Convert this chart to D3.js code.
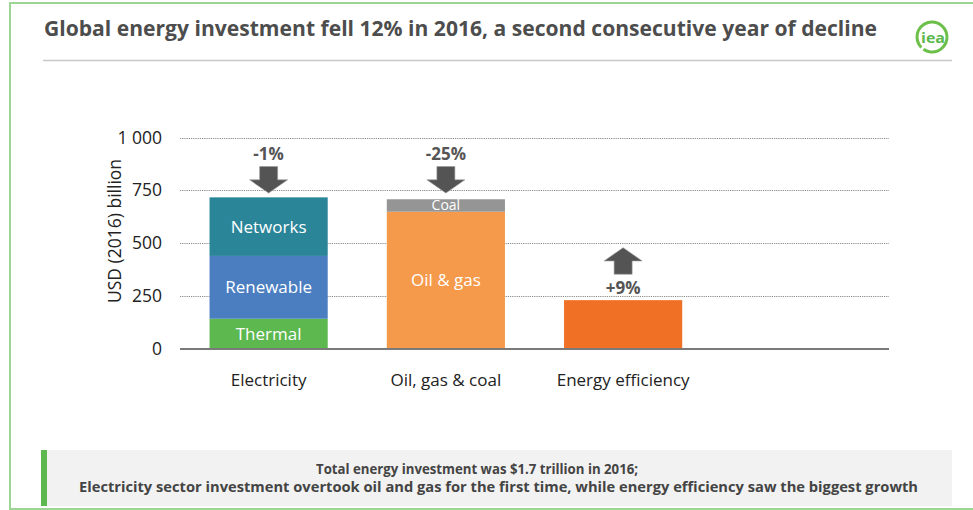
<!DOCTYPE html>
<html>
<head>
<meta charset="utf-8">
<script src="https://cdn.jsdelivr.net/npm/d3@7"></script>
<style>
  html, body { margin: 0; padding: 0; background: #fff; }
  svg { display: block; }
  text { font-family: "Open Sans", "Noto Sans", sans-serif; }
</style>
</head>
<body>
<svg id="chart" width="973" height="510"></svg>
<script>
// Sectors along the x axis (the fourth slot is left empty)
const categories = ["Electricity", "Oil, gas & coal", "Energy efficiency", ""];

// Stacked components, USD (2016) billion
const electricitySegments = ["Thermal", "Renewable", "Networks"];
const electricityValues = [143, 297, 277];
const fuelSegments = ["Oil & gas", "Coal"];
const fuelValues = [649, 59];
const efficiencySegments = [""];
const efficiencyValues = [231];

// Year-on-year change annotations
const changeLabels = ["-1%", "-25%", "+9%"];
const changeDirections = ["down", "down", "up"];

const yTicks = [0, 250, 500, 750, 1000];
const yTickLabels = ["0", "250", "500", "750", "1 000"];

const segmentColors = {
  "Thermal": "#5cb84f",
  "Renewable": "#4a7ec0",
  "Networks": "#2b8599",
  "Oil & gas": "#f5994a",
  "Coal": "#959595",
  "": "#f07125"
};

const svg = d3.select("#chart");

// Frame
svg.append("rect").attr("x", 10).attr("y", 3).attr("width", 1000).attr("height", 506)
  .attr("fill", "#fff").attr("stroke", "#9dd594").attr("stroke-width", 2);

// Title
svg.append("text").attr("x", 44).attr("y", 36)
  .attr("font-size", 21).attr("font-weight", 700).attr("fill", "#4d4d4d")
  .attr("textLength", 833).attr("lengthAdjust", "spacingAndGlyphs")
  .text("Global energy investment fell 12% in 2016, a second consecutive year of decline");
svg.append("line").attr("x1", 43).attr("x2", 952).attr("y1", 60.5).attr("y2", 60.5)
  .attr("stroke", "#c8c8c8").attr("stroke-width", 1.5);

// Logo
const logo = svg.append("g").attr("transform", "translate(932,37)");
const ring = d3.arc().innerRadius(13.5).outerRadius(16.5).startAngle(-2.35).endAngle(3.75);
logo.append("path").attr("d", ring()).attr("fill", "#6cc04a");
logo.append("text").attr("x", 1).attr("y", 6).attr("text-anchor", "middle")
  .attr("font-family", "'DejaVu Serif', serif").attr("font-size", 14).attr("font-weight", 700)
  .attr("fill", "#5cb84f").attr("textLength", 24).attr("lengthAdjust", "spacingAndGlyphs").text("iea");

// Scales
const x = d3.scaleBand().domain(categories).range([180, 889]).paddingInner(1 / 3).paddingOuter(1 / 6);
const y = d3.scaleLinear().domain([0, 1000]).range([349, 137.5]);

// Gridlines
svg.append("g").selectAll("line").data(yTicks.filter(d => d > 0)).join("line")
  .attr("x1", 180).attr("x2", 889)
  .attr("y1", d => Math.round(y(d)) + 0.5).attr("y2", d => Math.round(y(d)) + 0.5)
  .attr("stroke", "#8a8a8a").attr("stroke-width", 1).attr("stroke-dasharray", "1.2,1");

// Y axis tick labels
const yAxis = d3.axisLeft(y).tickValues(yTicks).tickSize(0).tickPadding(0)
  .tickFormat((d, i) => yTickLabels[i]);
const yG = svg.append("g").attr("transform", "translate(162,0)").call(yAxis);
yG.select(".domain").remove();
yG.selectAll("text").attr("font-size", 17.5).attr("fill", "#222")
  .attr("font-family", "'Open Sans', sans-serif");

svg.append("text").attr("transform", "translate(121,231) rotate(-90)")
  .attr("text-anchor", "middle").attr("font-size", 17.5).attr("fill", "#222")
  .text("USD (2016) billion");

// Stacked bars
const stacks = [
  { cat: categories[0], names: electricitySegments, values: electricityValues },
  { cat: categories[1], names: fuelSegments, values: fuelValues },
  { cat: categories[2], names: efficiencySegments, values: efficiencyValues }
];

const barsG = svg.append("g");
stacks.forEach(s => {
  let base = 0;
  s.names.forEach((name, i) => {
    const v0 = base, v1 = base + s.values[i];
    base = v1;
    barsG.append("rect")
      .attr("x", x(s.cat)).attr("width", x.bandwidth())
      .attr("y", y(v1)).attr("height", y(v0) - y(v1))
      .attr("fill", segmentColors[name]);
    if (name) {
      const small = (y(v0) - y(v1)) < 20;
      barsG.append("text")
        .attr("x", x(s.cat) + x.bandwidth() / 2)
        .attr("y", (y(v0) + y(v1)) / 2)
        .attr("dy", "0.35em").attr("text-anchor", "middle")
        .attr("font-size", small ? 14 : 17).attr("fill", "#fff")
        .text(name);
    }
  });
  s.total = base;
});

// Baseline
svg.append("line").attr("x1", 180).attr("x2", 889).attr("y1", y(0)).attr("y2", y(0))
  .attr("stroke", "#7a7a7a").attr("stroke-width", 2);

// Category labels
svg.append("g").selectAll("text").data(categories.filter(d => d)).join("text")
  .attr("x", d => x(d) + x.bandwidth() / 2).attr("y", 386)
  .attr("text-anchor", "middle").attr("font-size", 17).attr("fill", "#222")
  .text(d => d);

// Change arrows: block arrow, tip at origin, pointing down
const arrowPath = "M0,0 L-19,-13.3 L-9,-13.3 L-9,-26.6 L9,-26.6 L9,-13.3 L19,-13.3 Z";
const arrowG = svg.append("g");
stacks.forEach((s, i) => {
  const cx = x(s.cat) + x.bandwidth() / 2;
  if (changeDirections[i] === "down") {
    const tip = y(737);
    arrowG.append("path").attr("d", arrowPath)
      .attr("transform", `translate(${cx},${tip})`)
      .attr("fill", "#545454").attr("stroke", "#9a9a9a").attr("stroke-width", 0.6);
    arrowG.append("text").attr("x", cx).attr("y", tip - 33)
      .attr("text-anchor", "middle").attr("font-size", 17).attr("font-weight", 700)
      .attr("fill", "#555").text(changeLabels[i]);
  } else {
    const top = y(s.total);
    const tip = top - 52.5;
    arrowG.append("path").attr("d", arrowPath)
      .attr("transform", `translate(${cx},${tip}) scale(1,-1)`)
      .attr("fill", "#545454").attr("stroke", "#9a9a9a").attr("stroke-width", 0.6);
    arrowG.append("text").attr("x", cx).attr("y", top - 6)
      .attr("text-anchor", "middle").attr("font-size", 17).attr("font-weight", 700)
      .attr("fill", "#555").text(changeLabels[i]);
  }
});

// Takeaway box
svg.append("rect").attr("x", 41).attr("y", 450).attr("width", 911).attr("height", 56).attr("fill", "#f2f2f2");
svg.append("rect").attr("x", 41).attr("y", 450).attr("width", 6).attr("height", 56).attr("fill", "#5cb84f");
svg.append("text").attr("x", 316).attr("y", 474)
  .attr("font-size", 14).attr("font-weight", 700).attr("fill", "#444")
  .attr("textLength", 322).attr("lengthAdjust", "spacingAndGlyphs")
  .text("Total energy investment was $1.7 trillion in 2016;");
svg.append("text").attr("x", 79).attr("y", 492)
  .attr("font-size", 14).attr("font-weight", 700).attr("fill", "#444")
  .attr("textLength", 839).attr("lengthAdjust", "spacingAndGlyphs")
  .text("Electricity sector investment overtook oil and gas for the first time, while energy efficiency saw the biggest growth");
</script>
</body>
</html>
